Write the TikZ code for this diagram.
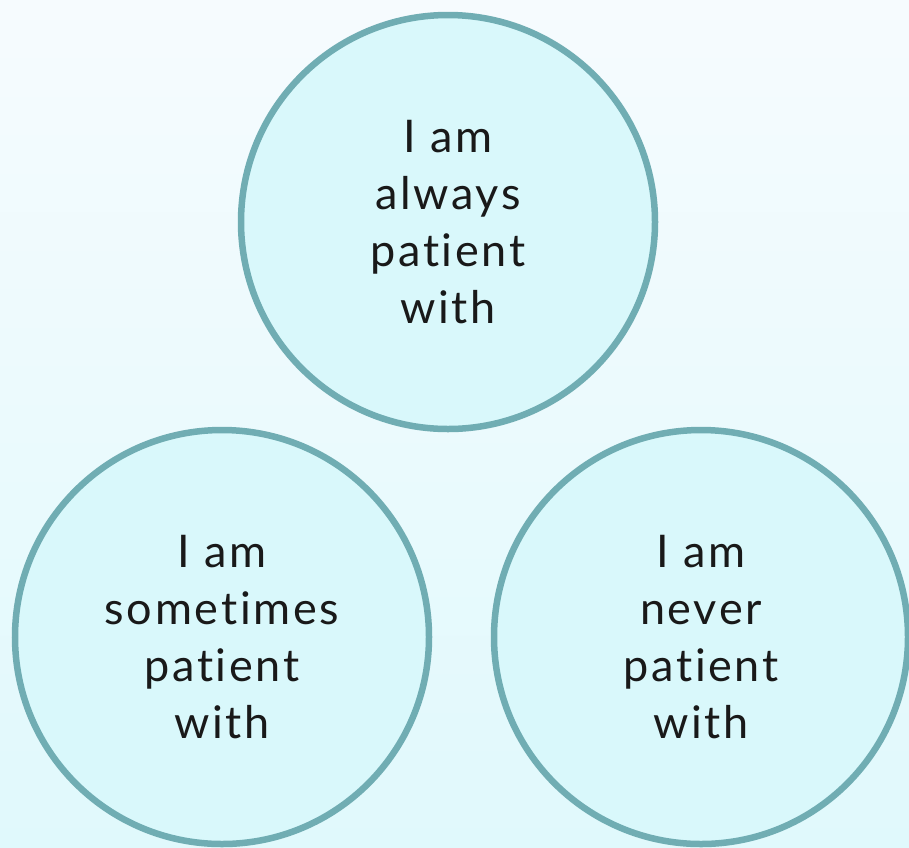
\documentclass[tikz,border=0pt]{standalone}
\usepackage{fontspec}
\setmainfont{Lato}[Ligatures=NoCommon,LetterSpace=6]
\definecolor{bgtop}{HTML}{F6FBFE}
\definecolor{bgbot}{HTML}{E0F9FC}
\definecolor{cfill}{HTML}{D9F8FB}
\definecolor{cline}{HTML}{70ADB3}
\begin{document}
\begin{tikzpicture}[x=1pt,y=-1pt,
  bubble/.style={circle,draw=cline,fill=cfill,line width=6.5pt,minimum size=414pt,inner sep=0pt,
    align=center,font=\fontsize{45}{57}\selectfont,text=black!90}]
\shade[top color=bgtop,bottom color=bgbot] (0,0) rectangle (909,847);
\useasboundingbox (0,0) rectangle (909,847);
\node[bubble] (always) at (448,222) {I am\\always\\patient\\with};
\node[bubble] (sometimes) at (222,637) {I am\\sometimes\\patient\\with};
\node[bubble] (never) at (701,637) {I am\\never\\patient\\with};
\end{tikzpicture}
\end{document}
